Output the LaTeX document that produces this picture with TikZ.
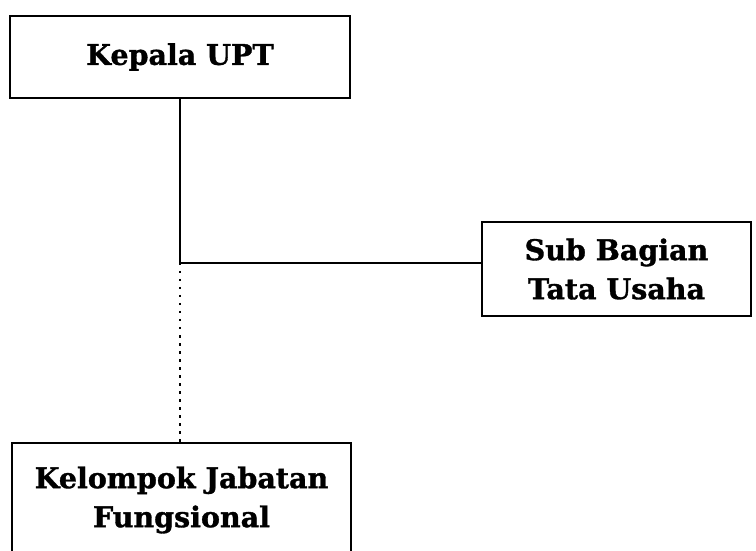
\documentclass[tikz,border=0pt]{standalone}
\usepackage{fontspec}
\setmainfont{DejaVu Serif}[BoldFeatures={FakeBold=1.2}]
\usepackage{tikz}
\usetikzlibrary{calc}
\usetikzlibrary{positioning}

\begin{document}
\begin{tikzpicture}[x=1pt,y=1pt,
    unitbox/.style={draw,line width=1.5pt,inner sep=0pt,align=center,
      font=\fontsize{28.5}{39}\selectfont\bfseries},
    orgline/.style={line width=1.1pt}]
    \useasboundingbox (0,0) rectangle (756,550);
    \clip (0,0) rectangle (756,550);

    \node[unitbox,minimum width=340,minimum height=82] (kup) at (180,493) {Kepala UPT};
    \node[unitbox,minimum width=269,minimum height=94] (sbtu) at (616.5,281) {Sub Bagian\\Tata Usaha};
    \node[unitbox,minimum width=339,minimum height=150,anchor=north] (kjf) at (181.5,108) {};
    \node[font=\fontsize{28.5}{39}\selectfont\bfseries,align=center] (kjflabel) at (181.5,50)
      {Kelompok Jabatan\\Fungsional};

    \coordinate (junction) at (kup.south |- 0,287);

    \draw[orgline]
      (kup.south) -- (junction)
      (junction) -- (junction -| sbtu.west)
      ;
    \draw[orgline,line width=1.5pt,dash pattern=on 2.5pt off 5.5pt]
      (junction) -- (junction |- kjf.north)
      ;

  \end{tikzpicture}
\end{document}
